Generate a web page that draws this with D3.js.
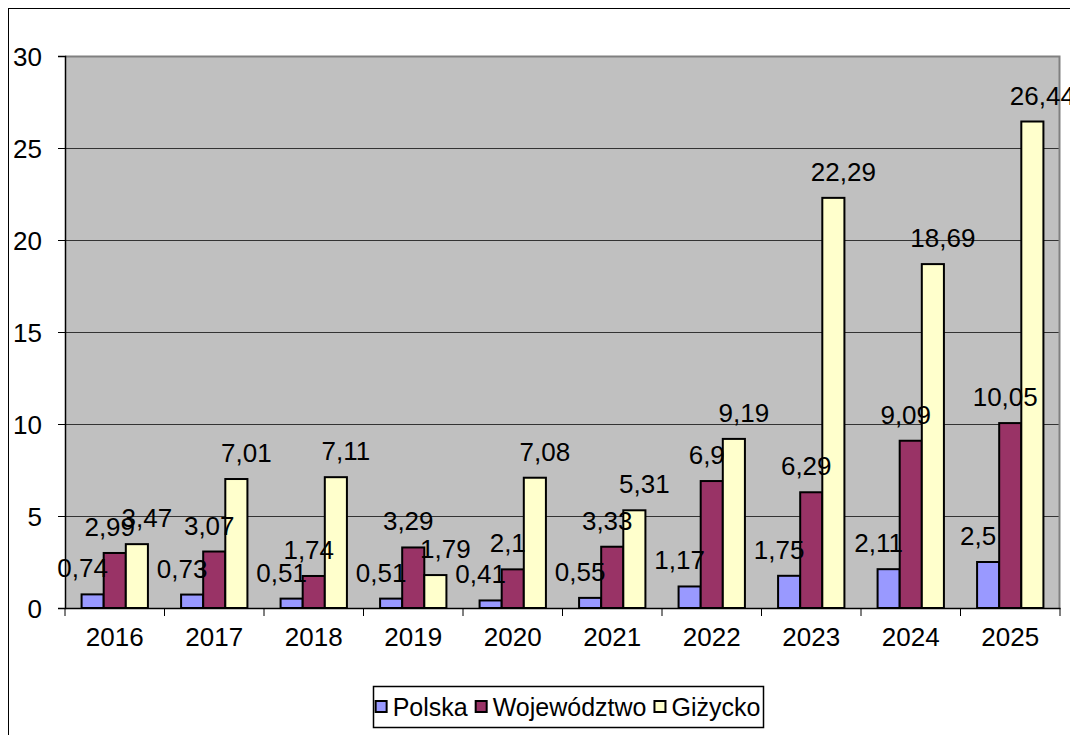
<!DOCTYPE html>
<html>
<head>
<meta charset="utf-8">
<script src="https://cdn.jsdelivr.net/npm/d3@7"></script>
<style>
  html, body { margin: 0; padding: 0; background: #fff; }
  svg { display: block; font-family: "Liberation Sans", Arial, sans-serif; }
</style>
</head>
<body>
<svg id="chart" width="1070" height="735"></svg>
<script>
const years = ["2016","2017","2018","2019","2020","2021","2022","2023","2024","2025"];
const seriesNames = ["Polska", "Województwo", "Giżycko"];
const polska = [0.74, 0.73, 0.51, 0.51, 0.41, 0.55, 1.17, 1.75, 2.11, 2.5];
const wojewodztwo = [2.99, 3.07, 1.74, 3.29, 2.1, 3.33, 6.9, 6.29, 9.09, 10.05];
const gizycko = [3.47, 7.01, 7.11, 1.79, 7.08, 5.31, 9.19, 22.29, 18.69, 26.44];
const yTicks = [0, 5, 10, 15, 20, 25, 30];

const colors = ["#9999FF", "#993366", "#FFFFCC"];
const labelDx = [-10, -5, 10];
const seriesValues = [polska, wojewodztwo, gizycko];

const svg = d3.select("#chart");
const plot = {left: 65, right: 1060, top: 56, bottom: 608};
const FONT = 26;

// outer frame
svg.append("rect").attr("x", 8.5).attr("y", 8.5).attr("width", 1100).attr("height", 800)
  .attr("fill", "#fff").attr("stroke", "#000").attr("stroke-width", 1);

const x = d3.scaleBand().domain(years).range([plot.left, plot.right]).paddingInner(0).paddingOuter(0);
const xs = d3.scaleBand().domain(d3.range(3)).range([0, x.bandwidth()]).paddingInner(0).paddingOuter(0.75);
const y = d3.scaleLinear().domain([0, 30]).range([plot.bottom, plot.top]);

// plot background
svg.append("rect").attr("x", plot.left).attr("y", plot.top)
  .attr("width", plot.right - plot.left).attr("height", plot.bottom - plot.top)
  .attr("fill", "#C0C0C0");

// gridlines
svg.append("g").selectAll("line").data(yTicks.filter(d => d > 0 && d < 30)).join("line")
  .attr("x1", plot.left).attr("x2", plot.right)
  .attr("y1", d => Math.round(y(d)) + 0.5).attr("y2", d => Math.round(y(d)) + 0.5)
  .attr("stroke", "#333").attr("stroke-width", 1);

// plot border top/right gray
svg.append("path")
  .attr("d", `M${plot.left},${plot.top + 0.5}H${plot.right - 0.5}V${plot.bottom}`)
  .attr("fill", "none").attr("stroke", "#808080").attr("stroke-width", 2);

// bars
const groups = svg.append("g").selectAll("g").data(years).join("g")
  .attr("transform", d => `translate(${x(d)},0)`);
groups.each(function(yr, i) {
  const g = d3.select(this);
  seriesValues.forEach((vals, s) => {
    g.append("rect")
      .attr("x", xs(s)).attr("width", xs.bandwidth())
      .attr("y", y(vals[i])).attr("height", y(0) - y(vals[i]))
      .attr("fill", colors[s]).attr("stroke", "#000").attr("stroke-width", 2);
  });
});

// axes
const yAxis = d3.axisLeft(y).tickValues(yTicks).tickSize(7).tickPadding(16);
const ya = svg.append("g").attr("transform", `translate(${plot.left},0)`).call(yAxis);
ya.select(".domain").attr("stroke", "#000").attr("stroke-width", 1.5);
ya.selectAll(".tick line").attr("stroke", "#000");
ya.selectAll("text").attr("font-size", FONT).attr("fill", "#000")
  .attr("font-family", "Liberation Sans, Arial, sans-serif").attr("dy", "0.36em");

const xAxis = d3.axisBottom(x).tickSize(0).tickPadding(20);
const xa = svg.append("g").attr("transform", `translate(0,${plot.bottom})`).call(xAxis);
xa.select(".domain").attr("stroke", "#000").attr("stroke-width", 1.5);
xa.selectAll("text").attr("font-size", FONT).attr("fill", "#000")
  .attr("font-family", "Liberation Sans, Arial, sans-serif").attr("dy", "0.71em");
// category boundary ticks
xa.append("g").selectAll("line").data(years.map(d => x(d)).concat([plot.right])).join("line")
  .attr("x1", d => d).attr("x2", d => d).attr("y1", 0).attr("y2", 8)
  .attr("stroke", "#000").attr("stroke-width", 1);

// data labels
const fmt = v => String(v).replace(".", ",");
groups.each(function(yr, i) {
  const g = d3.select(this);
  seriesValues.forEach((vals, s) => {
    g.append("text")
      .attr("x", xs(s) + xs.bandwidth() / 2 + labelDx[s])
      .attr("y", y(vals[i]) - 17)
      .attr("text-anchor", "middle")
      .attr("font-size", FONT).attr("fill", "#000")
      .text(fmt(vals[i]));
  });
});

// legend
const legend = svg.append("g");
const lgBox = legend.append("rect").attr("fill", "#fff").attr("stroke", "#000").attr("stroke-width", 1.5);
let cx = 0;
const items = legend.append("g");
seriesNames.forEach((name, s) => {
  const it = items.append("g").attr("transform", `translate(${cx},0)`);
  it.append("rect").attr("x", 0).attr("y", -6).attr("width", 11).attr("height", 11)
    .attr("fill", colors[s]).attr("stroke", "#000").attr("stroke-width", 2);
  const t = it.append("text").attr("x", 17).attr("y", 0).attr("dy", "0.36em")
    .attr("font-size", FONT - 1).attr("fill", "#000").text(name);
  cx += 17 + t.node().getComputedTextLength() + 8;
});
const totalW = cx - 8;
const legCenter = 568, legY = 707;
items.attr("transform", `translate(${legCenter - totalW / 2},${legY})`);
lgBox.attr("x", 373.5).attr("y", 686.5).attr("width", 390).attr("height", 41);
</script>
</body>
</html>
